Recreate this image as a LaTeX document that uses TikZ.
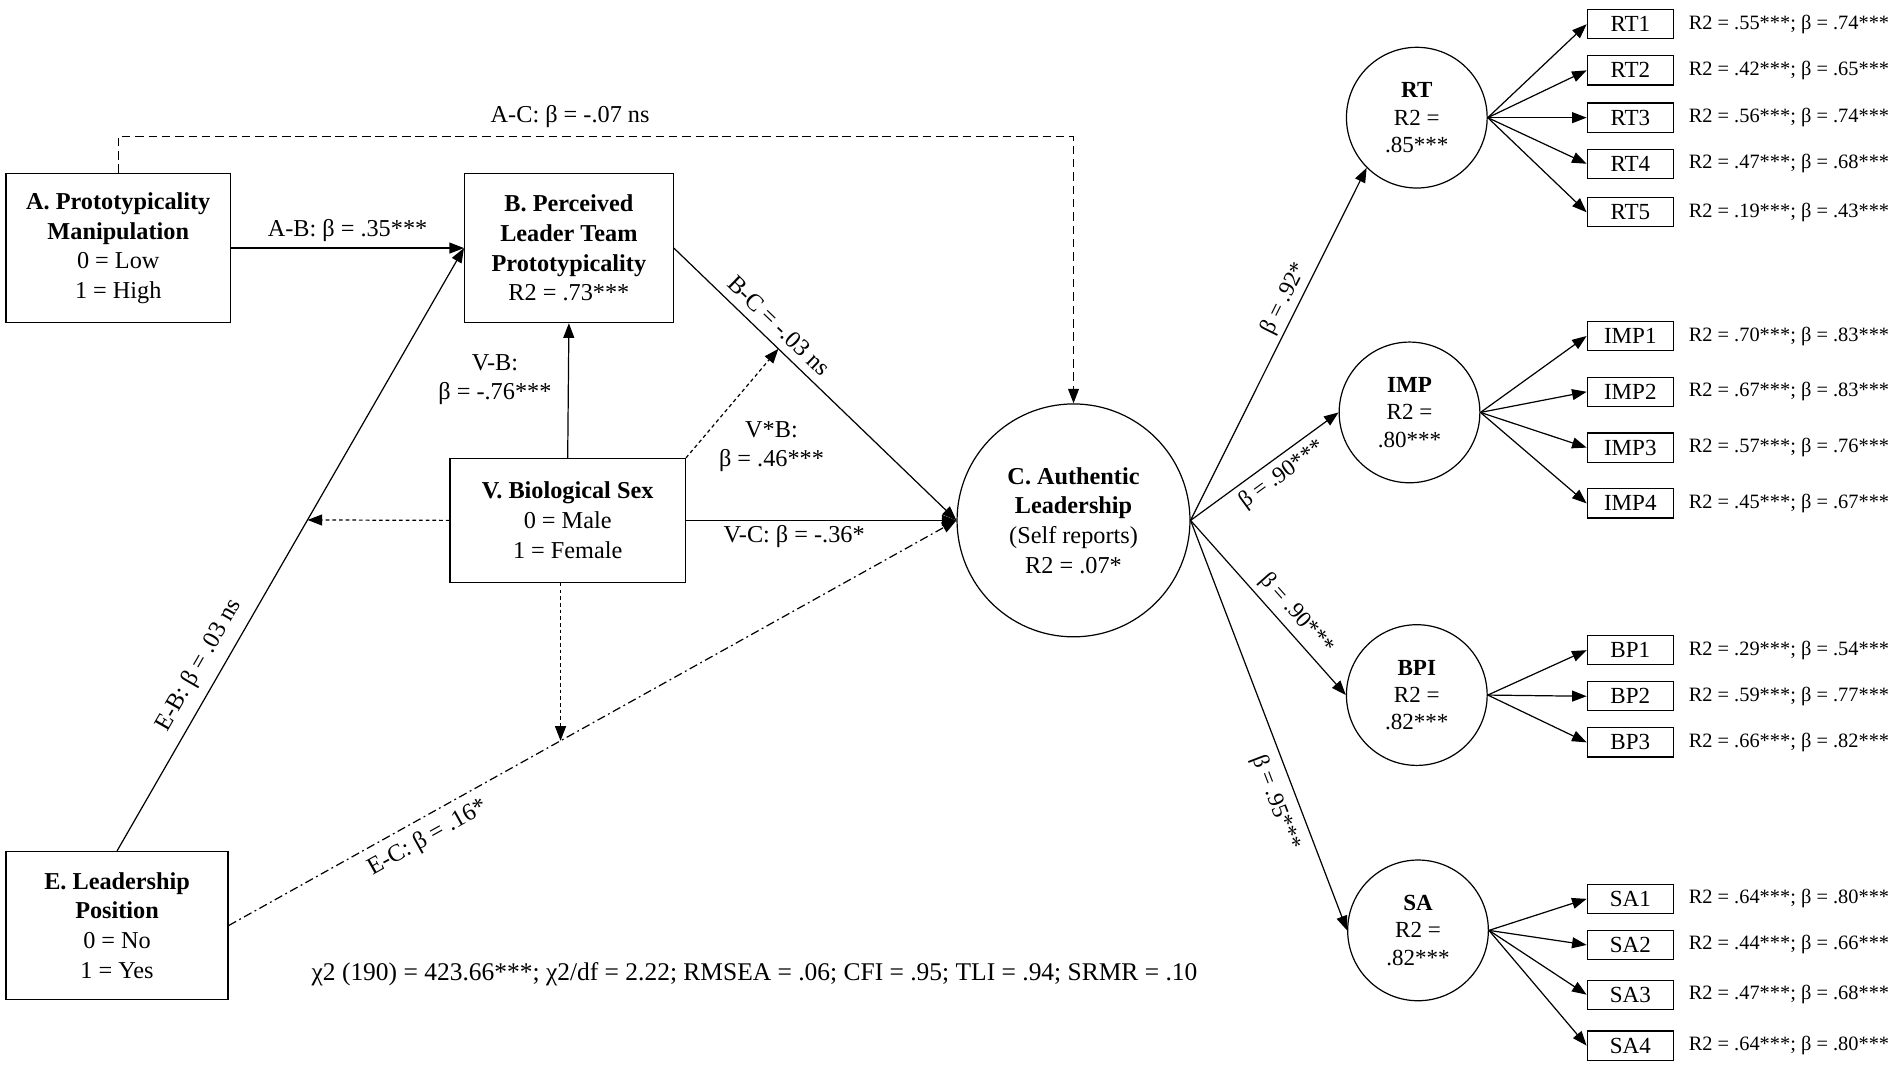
\documentclass[tikz,border=0pt]{standalone}
\usepackage{fontspec}
\setmainfont{Liberation Serif}
\usetikzlibrary{arrows.meta}
\begin{document}
\begin{tikzpicture}[x=1pt,y=-1pt,
  every node/.style={font=\fontsize{20}{24.5}\selectfont, inner sep=0pt},
  box/.style={draw, line width=1pt, align=center},
  lat/.style={draw, circle, line width=1pt, align=center},
  smlat/.style={lat, minimum size=116pt, font=\fontsize{19}{22.5}\selectfont},
  ind/.style={draw, line width=1pt, minimum width=71pt, minimum height=24pt, font=\fontsize{19}{22}\selectfont},
  indl/.style={anchor=west, font=\fontsize{16.8}{20}\selectfont},
  lbl/.style={font=\fontsize{20}{24}\selectfont, align=center},
  slbl/.style={font=\fontsize{19}{23}\selectfont},
  tip/.style={-{Triangle[length=12pt,width=9pt]}},
  conn/.style={line width=1pt, tip},
  dconn/.style={line width=1pt, dash pattern=on 3pt off 2.5pt, tip},
  dashconn/.style={line width=1pt, dash pattern=on 7pt off 4pt, tip},
  ddconn/.style={line width=1pt, dash pattern=on 7pt off 3pt on 1.5pt off 3pt, tip}
]
\useasboundingbox (0,0) rectangle (1568,880);

% main nodes
\node[box, minimum width=185pt, minimum height=123pt] (A) at (97.5,204.5)
  {\textbf{A. Prototypicality}\\\textbf{Manipulation}\\0 = Low\\1 = High};
\node[box, minimum width=172pt, minimum height=123pt] (B) at (469,204.5)
  {\textbf{B. Perceived}\\\textbf{Leader Team}\\\textbf{Prototypicality}\\R2 = .73***};
\node[box, minimum width=194pt, minimum height=102pt] (V) at (468,429)
  {\textbf{V. Biological Sex}\\0 = Male\\1 = Female};
\node[box, minimum width=183pt, minimum height=122pt] (E) at (96.5,763)
  {\textbf{E. Leadership}\\\textbf{Position}\\0 = No\\1 = Yes};
\node[lat, minimum size=192pt] (C) at (885,429)
  {\textbf{C. Authentic}\\\textbf{Leadership}\\(Self reports)\\R2 = .07*};

% latent factors
\node[smlat] (RT)  at (1168,97)  {\textbf{RT}\\R2 =\\.85***};
\node[smlat] (IMP) at (1162,340) {\textbf{IMP}\\R2 =\\.80***};
\node[smlat] (BPI) at (1168,573) {\textbf{BPI}\\R2 =\\.82***};
\node[smlat] (SA)  at (1169,767) {\textbf{SA}\\R2 =\\.82***};

% helper coordinates
\path (B.east) -- (C.west) coordinate[pos=0.37] (bc);
\path (E.north) -- (B.west) coordinate[pos=0.549] (eb);
\path (E.east) -- (C.west) coordinate[pos=0.456] (ec);

% A-C dashed
\draw[dashconn] (A.north) -- ++(0,-30) -| (C.north);
\node[lbl] (lAC) at (470,96) {A-C: β = -.07 ns};

% A-B
\draw[conn] (A.east) -- (B.west) node[lbl, midway, above=5pt] (lAB) {A-B: β = .35***};

% B-C
\draw[conn] (B.east) -- (C.west) node[lbl, sloped, pos=0.33, above=7pt] (lBC) {B-C = -.03 ns};

% V-B
\draw[conn] (V.north) -- (B.south);
\node[lbl] (lVB) at (408,313) {V-B:\\β = -.76***};

% V*B
\draw[dconn] (V.north east) -- (bc);
\node[lbl] (lVxB) at (636,368) {V*B:\\β = .46***};

% V-C
\draw[conn] (V.east) -- (C.west) node[lbl, pos=0.4, below=4pt] (lVC) {V-C: β = -.36*};

% V -> E-B path
\draw[dconn] (V.west) -- (eb);

% E-B
\draw[conn] (E.north) -- (B.west) node[lbl, sloped, pos=0.29, above=8pt] (lEB) {E-B: β = .03 ns};

% E-C
\draw[ddconn] (E.east) -- (C.west) node[lbl, sloped, pos=0.26, below=7pt] (lEC) {E-C: β = .16*};

% V -> E-C path
\draw[dconn] (V.south -| ec) -- (ec);

% fit statistics
\node[lbl, font=\fontsize{21}{24}\selectfont] (fit) at (622,803) {χ2 (190) = 423.66***; χ2/df = 2.22; RMSEA = .06; CFI = .95; TLI = .94; SRMR = .10};

% C to latent factors
\draw[conn] (C.east) -- (RT.south west) node[slbl, sloped, pos=0.61, above=3pt] (lRT) {β = .92*};
\draw[conn] (C.east) -- (IMP.west) node[slbl, sloped, pos=0.55, below=5pt] (lIMP) {β = .90***};
\draw[conn] (C.east) -- (BPI.west) node[slbl, sloped, pos=0.6, above=5pt] (lBPI) {β = .90***};
\draw[conn] (C.east) -- (SA.west) node[slbl, sloped, pos=0.67, below=8pt] (lSA) {β = .95***};

% indicators
\foreach \p/\n/\y/\t in {
 RT/RT1/20/{R2 = .55***; β = .74***},
 RT/RT2/58/{R2 = .42***; β = .65***},
 RT/RT3/97/{R2 = .56***; β = .74***},
 RT/RT4/135/{R2 = .47***; β = .68***},
 RT/RT5/175/{R2 = .19***; β = .43***},
 IMP/IMP1/277/{R2 = .70***; β = .83***},
 IMP/IMP2/323/{R2 = .67***; β = .83***},
 IMP/IMP3/369/{R2 = .57***; β = .76***},
 IMP/IMP4/415/{R2 = .45***; β = .67***},
 BPI/BP1/536/{R2 = .29***; β = .54***},
 BPI/BP2/574/{R2 = .59***; β = .77***},
 BPI/BP3/612/{R2 = .66***; β = .82***},
 SA/SA1/741/{R2 = .64***; β = .80***},
 SA/SA2/779/{R2 = .44***; β = .66***},
 SA/SA3/820/{R2 = .47***; β = .68***},
 SA/SA4/862/{R2 = .64***; β = .80***}}
{
 \node[ind] (\n) at (1344,\y) {\n};
 \node[indl] (l\n) at (1392,\y) {\t};
 \draw[conn] (\p.east) -- (\n.west);
}
\end{tikzpicture}
\end{document}
